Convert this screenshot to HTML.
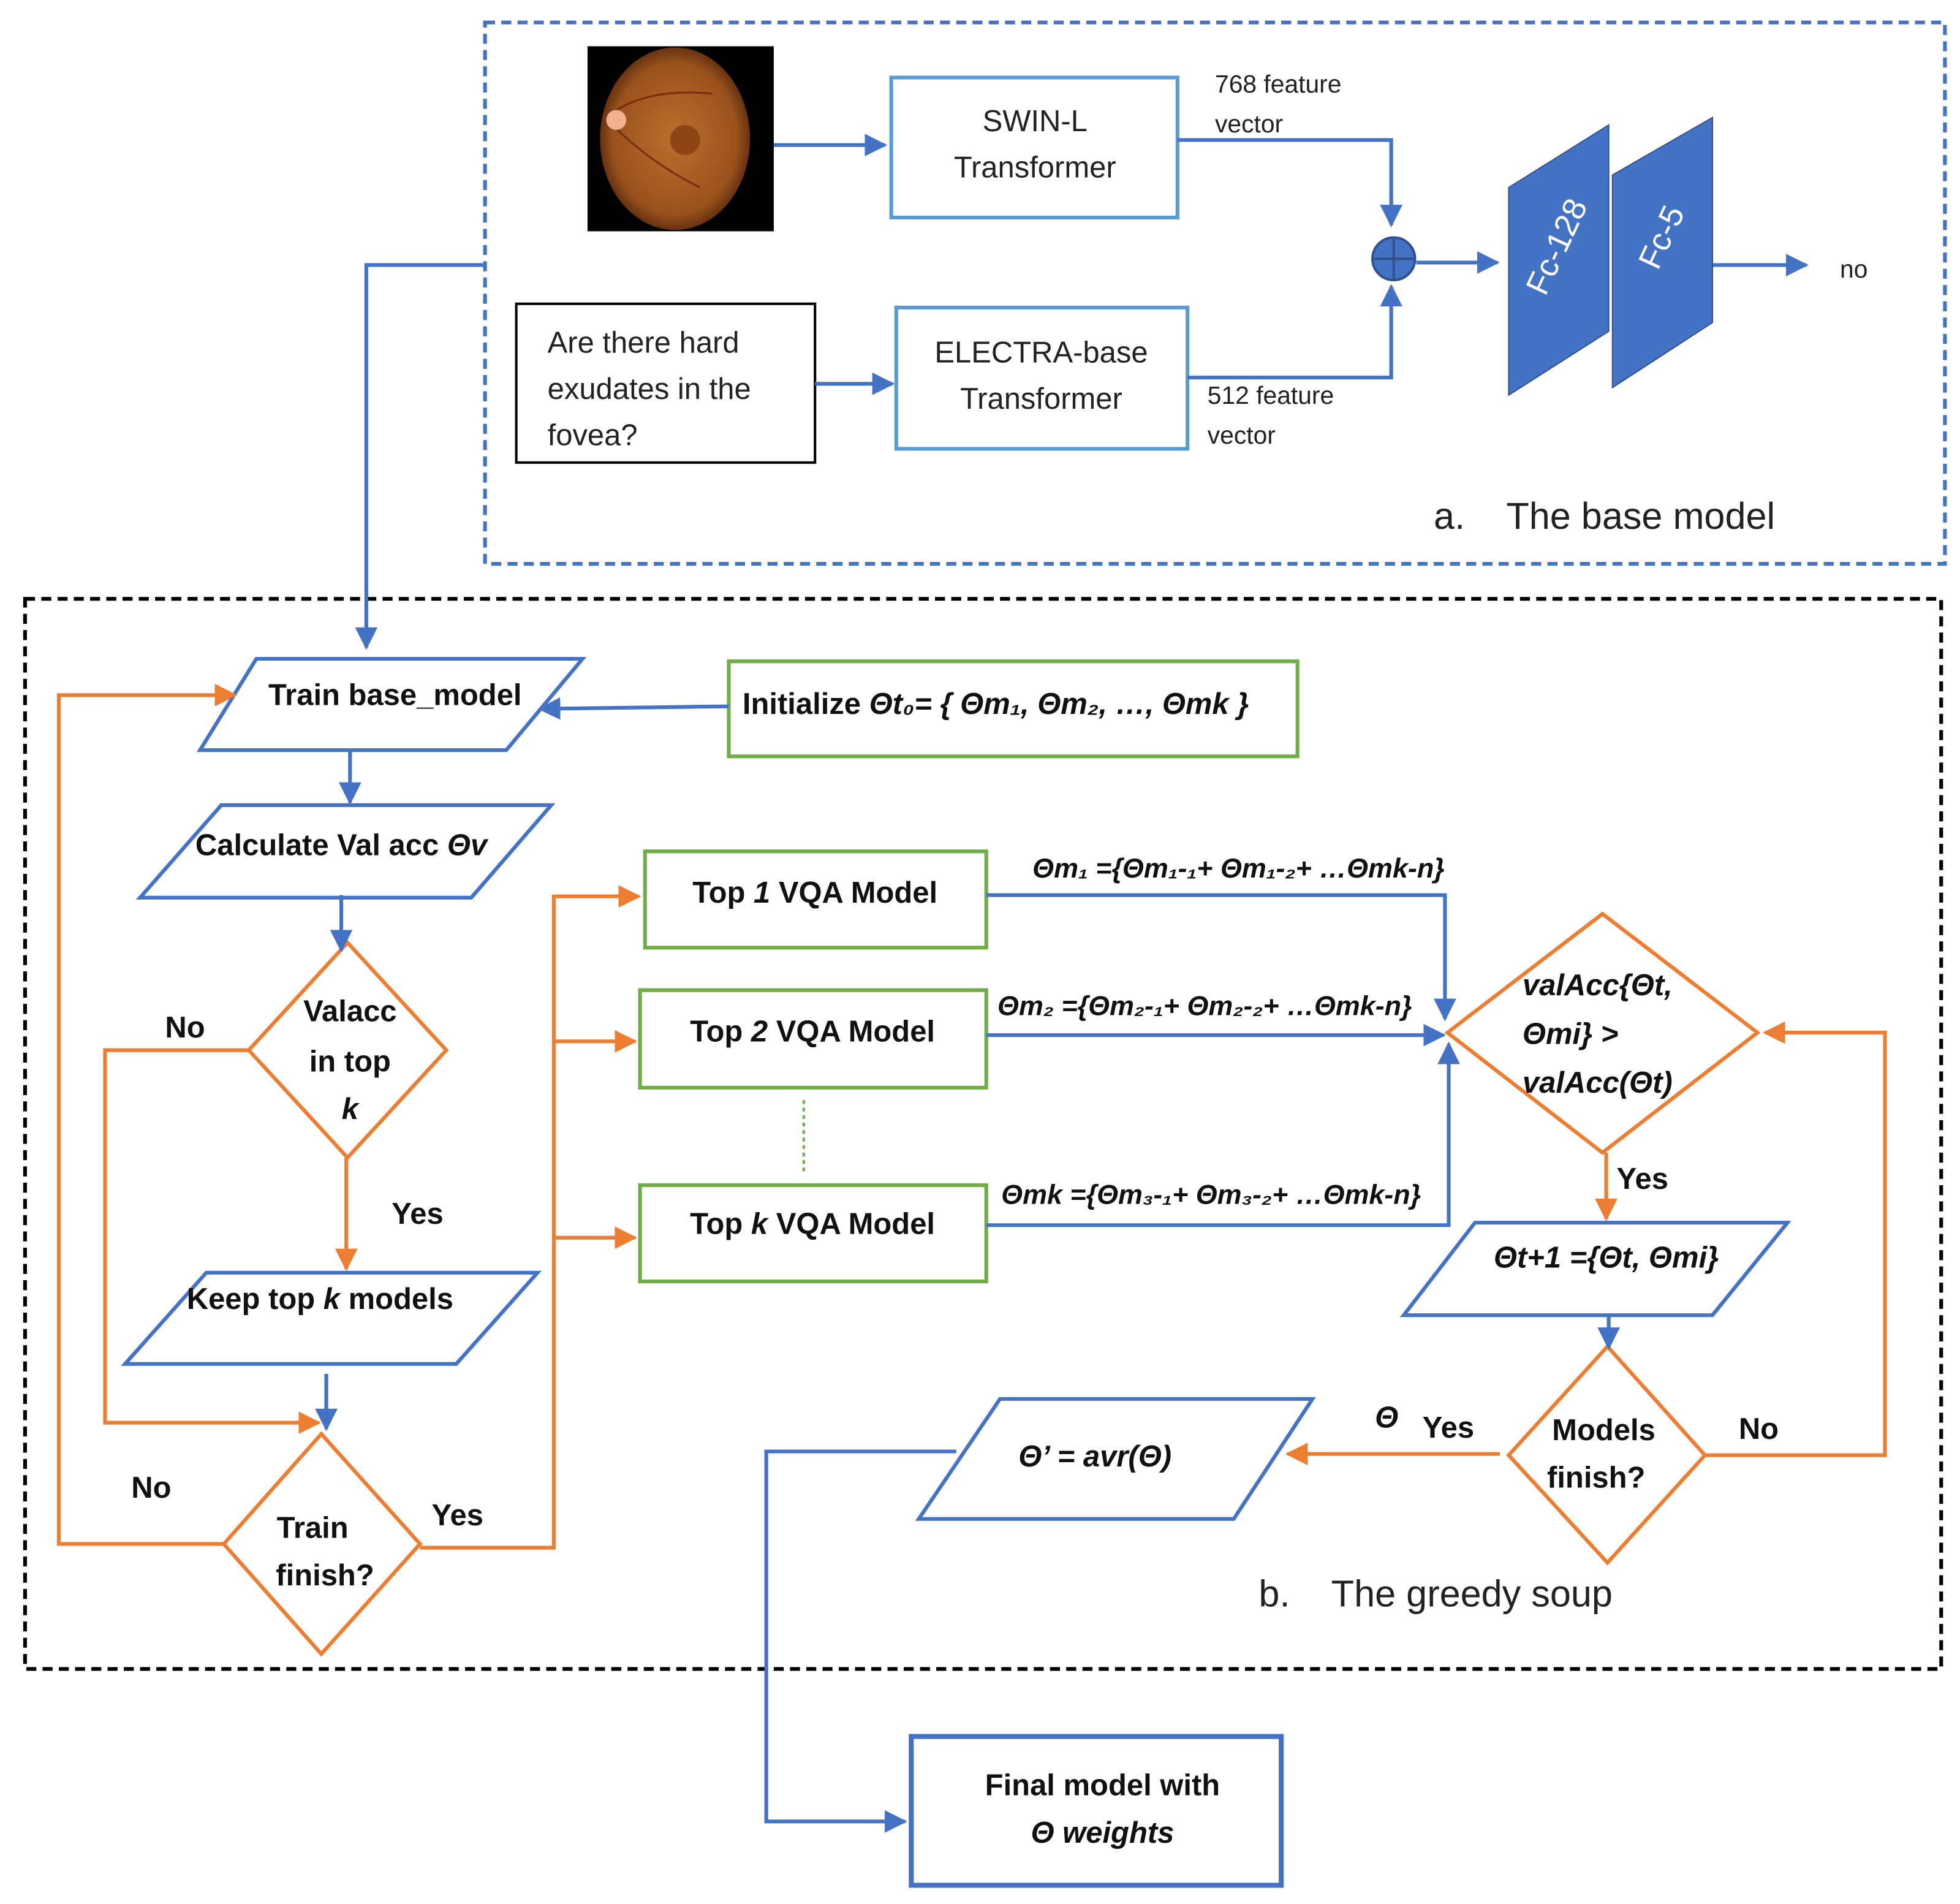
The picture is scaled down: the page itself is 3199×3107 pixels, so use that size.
<!DOCTYPE html>
<html><head><meta charset="utf-8"><style>
html,body{margin:0;padding:0;background:#fff;}
svg{display:block;}
text{font-family:"Liberation Sans",sans-serif;}
</style></head><body>
<svg width="3199" height="3107" viewBox="0 0 1568 1523" xmlns="http://www.w3.org/2000/svg">
<defs>
<marker id="blue" viewBox="0 0 10 10" refX="9" refY="5" markerWidth="18" markerHeight="18" orient="auto" markerUnits="userSpaceOnUse"><path d="M0,0 L10,5 L0,10 z" fill="#4472C4"/></marker>
<marker id="orange" viewBox="0 0 10 10" refX="9" refY="5" markerWidth="18" markerHeight="18" orient="auto" markerUnits="userSpaceOnUse"><path d="M0,0 L10,5 L0,10 z" fill="#ED7D31"/></marker>
<radialGradient id="eye" cx="0.5" cy="0.5" r="0.55"><stop offset="0" stop-color="#b8702e"/><stop offset="0.75" stop-color="#9a521c"/><stop offset="1" stop-color="#4a200a"/></radialGradient>
</defs>
<rect width="1568" height="1523" fill="#fff"/>

<rect x="388" y="18" width="1168" height="433" fill="none" stroke="#4472C4" stroke-width="3" stroke-dasharray="8,5"/>
<rect x="20" y="479" width="1533" height="856" fill="none" stroke="#000" stroke-width="3" stroke-dasharray="8,5"/>

<rect x="470" y="37" width="149" height="148" fill="#000"/>
<ellipse cx="540" cy="111" rx="60" ry="73" fill="url(#eye)"/>
<path d="M490,90 Q520,70 570,75 M490,100 Q520,130 560,150" stroke="#7a2e10" stroke-width="1.5" fill="none"/>
<circle cx="493" cy="96" r="8" fill="#f0b090"/>
<circle cx="548" cy="112" r="12" fill="#8e4515"/>

<g fill="none" stroke-width="3">
<rect x="713" y="62" width="229" height="112" stroke="#5B9BD5"/>
<rect x="413" y="243" width="239" height="127" stroke="#000" stroke-width="2"/>
<rect x="717" y="246" width="233" height="113" stroke="#5B9BD5"/>
</g>
<g stroke="#4472C4" stroke-width="3" fill="none">
<path d="M619,116 L708,116" marker-end="url(#blue)"/>
<path d="M942,112 L1113,112 L1113,180" marker-end="url(#blue)"/>
<path d="M652,307 L714,307" marker-end="url(#blue)"/>
<path d="M950,302 L1113,302 L1113,229" marker-end="url(#blue)"/>
<path d="M1133,210 L1198,210" marker-end="url(#blue)"/>
<path d="M1370,212 L1445,212" marker-end="url(#blue)"/>
<path d="M388,212 L293,212 L293,518" marker-end="url(#blue)"/>
</g>
<circle cx="1115" cy="207" r="17" fill="#4472C4" stroke="#2F528F" stroke-width="2"/>
<path d="M1098,207 H1132 M1115,190 V224" stroke="#2F528F" stroke-width="2"/>
<polygon points="1207,150 1287,100 1287,265 1207,316" fill="#4472C4" stroke="#2F528F"/>
<polygon points="1290,140 1370,94 1370,258 1290,310" fill="#4472C4" stroke="#2F528F"/>
<text x="1247" y="205" fill="#fff" font-size="26" text-anchor="middle" transform="rotate(-65 1247 198)">Fc-128</text>
<text x="1330" y="198" fill="#fff" font-size="26" text-anchor="middle" transform="rotate(-65 1330 190)">Fc-5</text>

<g font-size="24" fill="#222">
<text x="828" y="105" text-anchor="middle">SWIN-L</text>
<text x="828" y="142" text-anchor="middle">Transformer</text>
<text x="833" y="290" text-anchor="middle">ELECTRA-base</text>
<text x="833" y="327" text-anchor="middle">Transformer</text>
<text x="438" y="282">Are there hard</text>
<text x="438" y="319">exudates in the</text>
<text x="438" y="356">fovea?</text>
</g>
<g font-size="20" fill="#222">
<text x="972" y="74">768 feature</text>
<text x="972" y="106">vector</text>
<text x="966" y="323">512 feature</text>
<text x="966" y="355">vector</text>
<text x="1472" y="222">no</text>
</g>
<text x="1147" y="423" font-size="30" fill="#222">a.</text>
<text x="1205" y="423" font-size="30" fill="#222">The base model</text>
<text x="1007" y="1285" font-size="30" fill="#222">b.</text>
<text x="1065" y="1285" font-size="30" fill="#222">The greedy soup</text>

<g fill="none" stroke-width="3">
<polygon points="160,600 205,527 466,527 405,600" stroke="#4472C4"/>
<rect x="583" y="529" width="455" height="76" stroke="#70AD47"/>
<polygon points="112,718 177,644 441,644 377,718" stroke="#4472C4"/>
<polygon points="278,754 357,840 278,926 199,840" stroke="#ED7D31"/>
<polygon points="100,1091 165,1018 430,1018 365,1091" stroke="#4472C4"/>
<polygon points="257,1147 336,1235 257,1323 179,1235" stroke="#ED7D31"/>
<rect x="516" y="681" width="273" height="77" stroke="#70AD47"/>
<rect x="512" y="792" width="277" height="78" stroke="#70AD47"/>
<rect x="512" y="948" width="277" height="77" stroke="#70AD47"/>
<polygon points="1282,731 1406,826 1282,922 1158,826" stroke="#ED7D31"/>
<polygon points="1123,1052 1180,978 1430,978 1370,1052" stroke="#4472C4"/>
<polygon points="1286,1077 1364,1164 1286,1250 1207,1164" stroke="#ED7D31"/>
<polygon points="735,1215 800,1119 1050,1119 987,1215" stroke="#4472C4"/>
<rect x="729" y="1389" width="296" height="119" stroke="#4472C4" stroke-width="4"/>
</g>
<path d="M643,880 V940" stroke="#70AD47" stroke-width="2" stroke-dasharray="3,3"/>

<g stroke="#4472C4" stroke-width="3" fill="none">
<path d="M583,565 L432,567" marker-end="url(#blue)"/>
<path d="M280,600 L280,642" marker-end="url(#blue)"/>
<path d="M273,716 L273,760" marker-end="url(#blue)"/>
<path d="M261,1099 L261,1143" marker-end="url(#blue)"/>
<path d="M789,716 L1156,716 L1156,815" marker-end="url(#blue)"/>
<path d="M789,828 L1155,828" marker-end="url(#blue)"/>
<path d="M789,980 L1159,980 L1159,835" marker-end="url(#blue)"/>
<path d="M1287,1052 L1287,1078" marker-end="url(#blue)"/>
<path d="M765,1161 L613,1161 L613,1457 L724,1457" marker-end="url(#blue)"/>
</g>
<g stroke="#ED7D31" stroke-width="3" fill="none">
<path d="M199,840 L84,840 L84,1138 L255,1138" marker-end="url(#orange)"/>
<path d="M277,926 L277,1015" marker-end="url(#orange)"/>
<path d="M179,1235 L47,1235 L47,556 L188,556" marker-end="url(#orange)"/>
<path d="M336,1238 L443,1238 L443,717 L511,717" marker-end="url(#orange)"/>
<path d="M443,833 L508,833" marker-end="url(#orange)"/>
<path d="M443,990 L508,990" marker-end="url(#orange)"/>
<path d="M1285,922 L1285,975" marker-end="url(#orange)"/>
<path d="M1364,1164 L1508,1164 L1508,826 L1412,826" marker-end="url(#orange)"/>
<path d="M1200,1163 L1030,1163" marker-end="url(#orange)"/>
</g>

<g font-size="24" fill="#111" font-weight="bold">
<text x="316" y="564" text-anchor="middle">Train base_model</text>
<text x="594" y="571">Initialize <tspan font-style="italic">Θt₀= { Θm₁, Θm₂, …, Θmk }</tspan></text>
<text x="273" y="684" text-anchor="middle">Calculate Val acc <tspan font-style="italic">Θv</tspan></text>
<text x="280" y="817" text-anchor="middle">Valacc</text>
<text x="280" y="857" text-anchor="middle">in top</text>
<text x="280" y="895" text-anchor="middle" font-style="italic">k</text>
<text x="148" y="830" text-anchor="middle">No</text>
<text x="334" y="979" text-anchor="middle">Yes</text>
<text x="256" y="1047" text-anchor="middle">Keep top <tspan font-style="italic">k</tspan> models</text>
<text x="250" y="1230" text-anchor="middle">Train</text>
<text x="260" y="1268" text-anchor="middle">finish?</text>
<text x="121" y="1198" text-anchor="middle">No</text>
<text x="366" y="1220" text-anchor="middle">Yes</text>
<text x="652" y="722" text-anchor="middle">Top <tspan font-style="italic">1</tspan> VQA Model</text>
<text x="650" y="833" text-anchor="middle">Top <tspan font-style="italic">2</tspan> VQA Model</text>
<text x="650" y="987" text-anchor="middle">Top <tspan font-style="italic">k</tspan> VQA Model</text>
<g font-style="italic" font-size="22">
<text x="826" y="702">Θm₁ ={Θm₁-₁+ Θm₁-₂+ …Θmk-n}</text>
<text x="798" y="812">Θm₂ ={Θm₂-₁+ Θm₂-₂+ …Θmk-n}</text>
<text x="801" y="963">Θmk ={Θm₃-₁+ Θm₃-₂+ …Θmk-n}</text>
</g>
<g font-style="italic">
<text x="1218" y="796">valAcc{Θt,</text>
<text x="1218" y="835">Θmi} &gt;</text>
<text x="1218" y="874">valAcc(Θt)</text>
<text x="1285" y="1014" text-anchor="middle">Θt+1 ={Θt, Θmi}</text>
<text x="876" y="1173" text-anchor="middle">Θ’ = avr(Θ)</text>
</g>
<text x="1314" y="951" text-anchor="middle">Yes</text>
<text x="1283" y="1152" text-anchor="middle">Models</text>
<text x="1277" y="1190" text-anchor="middle">finish?</text>
<text x="1407" y="1151" text-anchor="middle">No</text>
<text x="1100" y="1142" font-style="italic">Θ</text>
<text x="1138" y="1150">Yes</text>
<text x="882" y="1436" text-anchor="middle">Final model with</text>
<text x="882" y="1474" text-anchor="middle" font-style="italic">Θ weights</text>
</g>
</svg>
</body></html>
